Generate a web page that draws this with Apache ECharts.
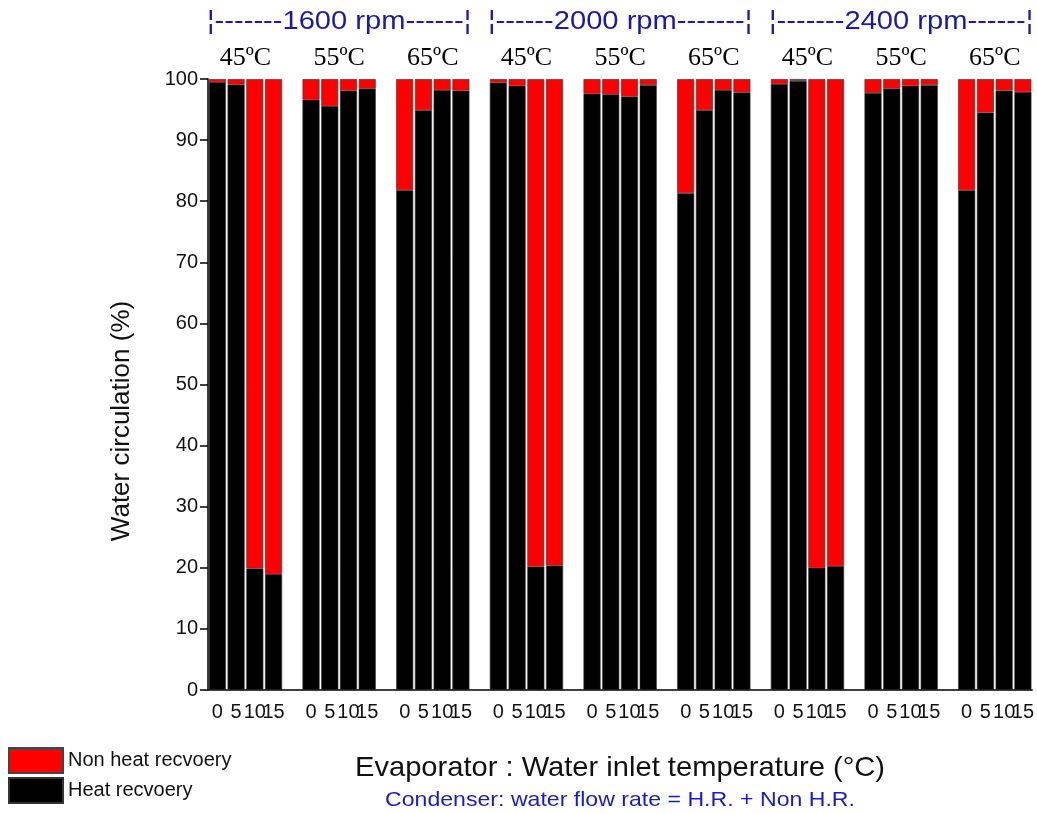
<!DOCTYPE html>
<html><head><meta charset="utf-8">
<script src="https://cdn.jsdelivr.net/npm/echarts@6/dist/echarts.min.js"></script>
<style>html,body{margin:0;padding:0;background:#fff}#c{width:1037px;height:814px}</style>
</head><body><div id="c"></div>
<script>
// ---- data ----
const rpmTitles = ['¦-------1600 rpm------¦', '¦------2000 rpm-------¦', '¦-------2400 rpm------¦'];
const tempLabels = ['45ºC', '55ºC', '65ºC'];
const flowTicks = ['0', '5', '10', '15'];
// Heat recovery (%) per rpm: [45ºC x4, 55ºC x4, 65ºC x4]
const heat1600 = [99.5, 99.1, 19.9, 19.0, 96.6, 95.6, 98.1, 98.4, 81.8, 94.9, 98.2, 98.1];
const heat2000 = [99.4, 98.9, 20.2, 20.4, 97.6, 97.5, 97.1, 99.0, 81.3, 94.9, 98.2, 97.8];
const heat2400 = [99.2, 99.7, 20.0, 20.3, 97.7, 98.4, 98.9, 99.0, 81.8, 94.5, 98.1, 97.9];
const seriesNames = ['Non heat recvoery', 'Heat recvoery'];
const yTicks = [0, 10, 20, 30, 40, 50, 60, 70, 80, 90, 100];

// ---- build category axis (4 bars + 1 empty slot per group) ----
const heatAll = [heat1600, heat2000, heat2400];
const cats = [], heat = [], nonHeat = [];
const nGroups = 9;
for (let g = 0; g < nGroups; g++) {
  const r = Math.floor(g / 3), t = g % 3;
  for (let f = 0; f < 4; f++) {
    const v = heatAll[r][t * 4 + f];
    cats.push(flowTicks[f]);
    heat.push(v);
    nonHeat.push(+(100 - v).toFixed(2));
  }
  if (g < nGroups - 1) { cats.push(''); heat.push(null); nonHeat.push(null); }
}

const FS = 'Liberation Sans, Arial, sans-serif';
const SERIF = 'Liberation Serif, Times New Roman, serif';
const chart = echarts.init(document.getElementById('c'), null, {renderer: 'canvas'});
chart.setOption({
  animation: false,
  backgroundColor: '#fff',
  grid: {left: 208, right: 4, top: 79, bottom: 124, containLabel: false},
  legend: {
    data: seriesNames, orient: 'vertical', left: 3, top: 742, icon: 'rect',
    itemWidth: 54, itemHeight: 25, itemGap: 3,
    textStyle: {fontSize: 20, fontFamily: FS, color: '#111'}
  },
  xAxis: {
    type: 'category', data: cats,
    axisLine: {lineStyle: {color: '#000', width: 1.5}},
    axisTick: {alignWithLabel: true, interval: 0, length: 8, lineStyle: {color: '#000', width: 1.5}},
    axisLabel: {interval: 0, color: '#111', fontSize: 20, fontFamily: FS, margin: 12, hideOverlap: false}
  },
  yAxis: {
    type: 'value', min: 0, max: 100, interval: 10,
    splitLine: {show: false},
    axisLine: {show: true, lineStyle: {color: '#000', width: 1.5}},
    axisTick: {show: true, length: 8, lineStyle: {color: '#000', width: 1.5}},
    axisLabel: {color: '#111', fontSize: 20, fontFamily: FS, margin: 10,
      formatter: v => (yTicks.indexOf(v) >= 0 ? String(v) : '')}
  },
  series: [
    {name: seriesNames[1], type: 'bar', stack: 'total', data: heat, barWidth: '91%',
     itemStyle: {color: '#000', borderColor: '#333', borderWidth: 0.6}},
    {name: seriesNames[0], type: 'bar', stack: 'total', data: nonHeat, barWidth: '91%',
     itemStyle: {color: '#ff0000', borderColor: '#444', borderWidth: 0.8}}
  ]
});

// ---- annotations positioned through the axis scale ----
function groupCenter(g) {
  const a = chart.convertToPixel({xAxisIndex: 0}, g * 5 + 1);
  const b = chart.convertToPixel({xAxisIndex: 0}, g * 5 + 2);
  return (a + b) / 2;
}
const graphics = [];
for (let r = 0; r < 3; r++) {
  graphics.push({type: 'text', x: groupCenter(r * 3 + 1), y: 22, scaleX: 1.12,
    style: {text: rpmTitles[r], fill: '#1a1aa6', fontSize: 26, fontFamily: FS, align: 'center', verticalAlign: 'middle'}});
  for (let t = 0; t < 3; t++) {
    graphics.push({type: 'text', x: groupCenter(r * 3 + t), y: 58,
      style: {text: tempLabels[t], fill: '#000', fontSize: 26, fontFamily: SERIF, align: 'center', verticalAlign: 'middle'}});
  }
}
graphics.push({type: 'text', x: 122, y: 421, rotation: Math.PI / 2,
  style: {text: 'Water circulation (%)', fill: '#111', fontSize: 26, fontFamily: FS, align: 'center', verticalAlign: 'middle'}});
graphics.push({type: 'text', x: 620, y: 768, scaleX: 1.04,
  style: {text: 'Evaporator : Water inlet temperature (°C)', fill: '#111', fontSize: 28, fontFamily: FS, align: 'center', verticalAlign: 'middle'}});
graphics.push({type: 'text', x: 620, y: 800, scaleX: 1.1,
  style: {text: 'Condenser: water flow rate = H.R. + Non H.R.', fill: '#1a1ac8', fontSize: 21, fontFamily: FS, align: 'center', verticalAlign: 'middle'}});
chart.setOption({graphic: graphics});
</script>
</body></html>
